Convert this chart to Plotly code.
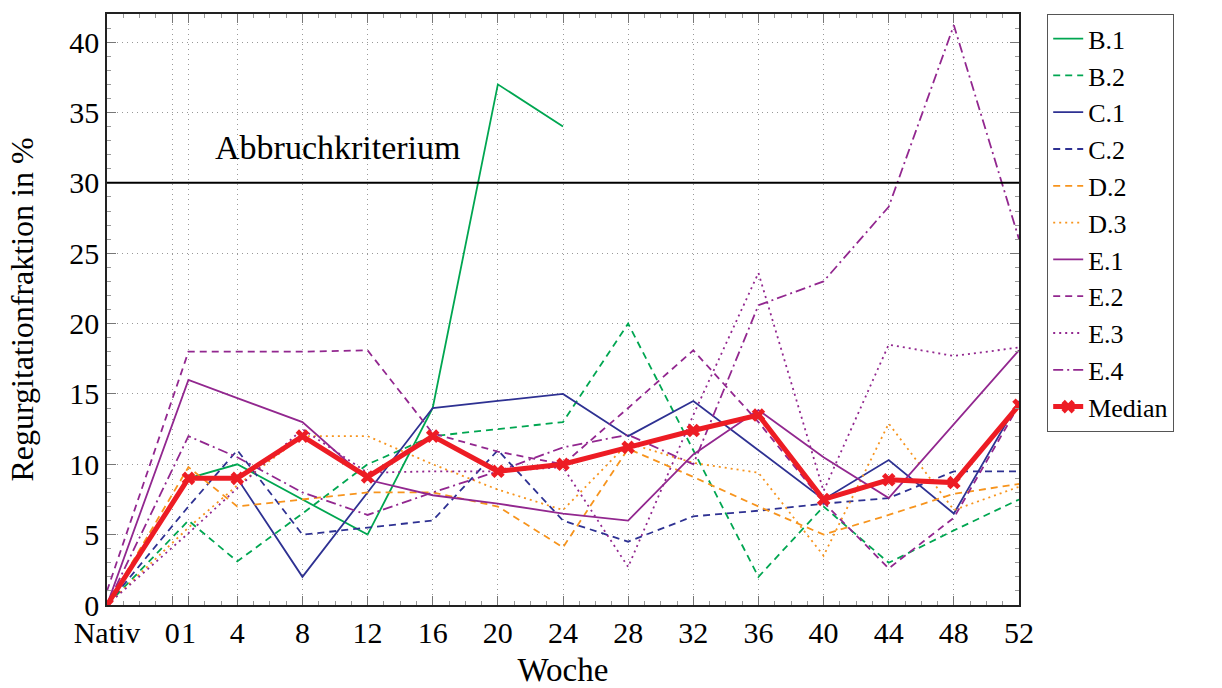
import plotly.graph_objects as go

# Messzeitpunkte (Woche; "Nativ" liegt vor Woche 0)
wochen = [-4, 1, 4, 8, 12, 16, 20, 24, 28, 32, 36, 40, 44, 48, 52]
tick_werte = [-4, 0, 1, 4, 8, 12, 16, 20, 24, 28, 32, 36, 40, 44, 48, 52]
tick_text = ["Nativ", "0", "1", "4", "8", "12", "16", "20", "24", "28",
             "32", "36", "40", "44", "48", "52"]

# Regurgitationsfraktion in % je Tier
b1 = [0, 9, 10, 7.5, 5, 14, 37, 34]
b2 = [0, 6, 3.1, 6.5, 10, 12, 12.5, 13, 20, 11, 2, 7, 3, 5.3, 7.5]
c1 = [0, 9, 9, 2, 8, 14, 14.5, 15, 12, 14.5, 11, 7.5, 10.3, 6.5, 14.5]
c2 = [0, 7, 11, 5, 5.5, 6, 11, 6, 4.5, 6.3, 6.7, 7.2, 7.6, 9.5, 9.5]
d2 = [0, 9.8, 7, 7.5, 8, 8, 7, 4.1, 11.1, 9.1, 7, 5, 6.4, 7.9, 8.6]
d3 = [0, 5.5, 8.5, 12, 12, 10, 8.2, 6.75, 11.5, 10.1, 9.4, 3.5, 12.9, 6.75, 8.4]
e1 = [0, 16, 14.7, 13, 8.9, 7.8, 7.2, 6.5, 6, 10.7, 13.85, 10.5, 7.6, 12.85, 18.1]
e2 = [1, 18, 18, 18, 18.1, 12.2, 10.9, 10, 14, 18.1, 13, 7.3, 2.6, 6.2, 14.2]
e3 = [0, 5.1, 8.3, 12.5, 9.4, 9.5, 9.5, 9.8, 2.7, 13.5, 23.6, 8.1, 18.5, 17.7, 18.3]
e4 = [0, 12, 10.5, 8, 6.4, 8, 9.5, 11.2, 12.1, 10, 21.3, 23, 28.3, 41.2, 26]
median = [0, 9, 9, 12, 9.1, 12, 9.5, 10, 11.2, 12.4, 13.5, 7.5, 8.9, 8.7, 14.2]

abbruch_grenze = 30

GRUEN = "rgb(0,166,81)"
BLAU = "rgb(46,49,146)"
ORANGE = "rgb(247,148,29)"
LILA = "rgb(146,39,143)"
ROT = "rgb(237,28,36)"

DASH = "7px,5px"
DOT = "2px,4px"
DASHDOT = "10px,4px,2px,4px"

reihen = [
    ("B.1", b1, GRUEN, "solid"),
    ("B.2", b2, GRUEN, DASH),
    ("C.1", c1, BLAU, "solid"),
    ("C.2", c2, BLAU, DASH),
    ("D.2", d2, ORANGE, DASH),
    ("D.3", d3, ORANGE, DOT),
    ("E.1", e1, LILA, "solid"),
    ("E.2", e2, LILA, DASH),
    ("E.3", e3, LILA, DOT),
    ("E.4", e4, LILA, DASHDOT),
]

SCHRIFT = "Liberation Serif, Times New Roman, serif"

fig = go.Figure()
for name, werte, farbe, strich in reihen:
    fig.add_trace(go.Scatter(
        x=wochen[:len(werte)], y=werte, name=name, mode="lines",
        legendgroup=name,
        line=dict(color=farbe, width=1.8, dash=strich),
    ))

fig.add_trace(go.Scatter(
    x=wochen, y=median, name="Median", mode="lines+markers",
    legendgroup="Median",
    line=dict(color=ROT, width=5),
    marker=dict(symbol="x", size=12, color=ROT),
))

fig.add_shape(type="line", xref="paper", x0=0, x1=1, yref="y",
              y0=abbruch_grenze, y1=abbruch_grenze,
              line=dict(color="black", width=2))
fig.add_annotation(x=10.2, y=abbruch_grenze + 2.5, text="Abbruchkriterium",
                   showarrow=False, font=dict(size=34, color="black", family=SCHRIFT))

achse = dict(
    showline=True, linecolor="#222", linewidth=1.5, mirror="ticks",
    ticks="inside", ticklen=9, tickcolor="#777", tickwidth=1,
    showgrid=True, gridcolor="#999999", griddash="1px,4px", gridwidth=1.2,
    zeroline=False, automargin=False,
    tickfont=dict(size=30, color="black", family=SCHRIFT),
)

fig.update_xaxes(
    **achse, range=[-4, 52], tickmode="array", tickvals=tick_werte,
    ticktext=tick_text, ticklabelstandoff=0, tickangle=0,
    minor=dict(dtick=1, tick0=0, ticks="inside", ticklen=4, tickcolor="#999",
               showgrid=False),
    title=dict(text="Woche", font=dict(size=33, family=SCHRIFT, color="black"),
               standoff=25),
)
fig.update_yaxes(
    **achse, range=[0, 42], dtick=5, tick0=0,
    minor=dict(dtick=1, tick0=0, ticks="inside", ticklen=4, tickcolor="#999",
               showgrid=False),
    title=dict(text="Regurgitationfraktion in %",
               font=dict(size=32, family=SCHRIFT, color="black"), standoff=26),
)

fig.update_layout(
    width=1222, height=688, autosize=False,
    margin=dict(l=107, r=203, t=14, b=83),
    paper_bgcolor="white", plot_bgcolor="white",
    font=dict(family=SCHRIFT, color="black"),
    legend=dict(
        x=1.0307, y=1, xanchor="left", yanchor="top",
        bordercolor="#555", borderwidth=1.2, bgcolor="white",
        font=dict(size=26, family=SCHRIFT, color="black"),
        traceorder="grouped", tracegroupgap=0,
    ),
)

fig.write_html("out.html")
